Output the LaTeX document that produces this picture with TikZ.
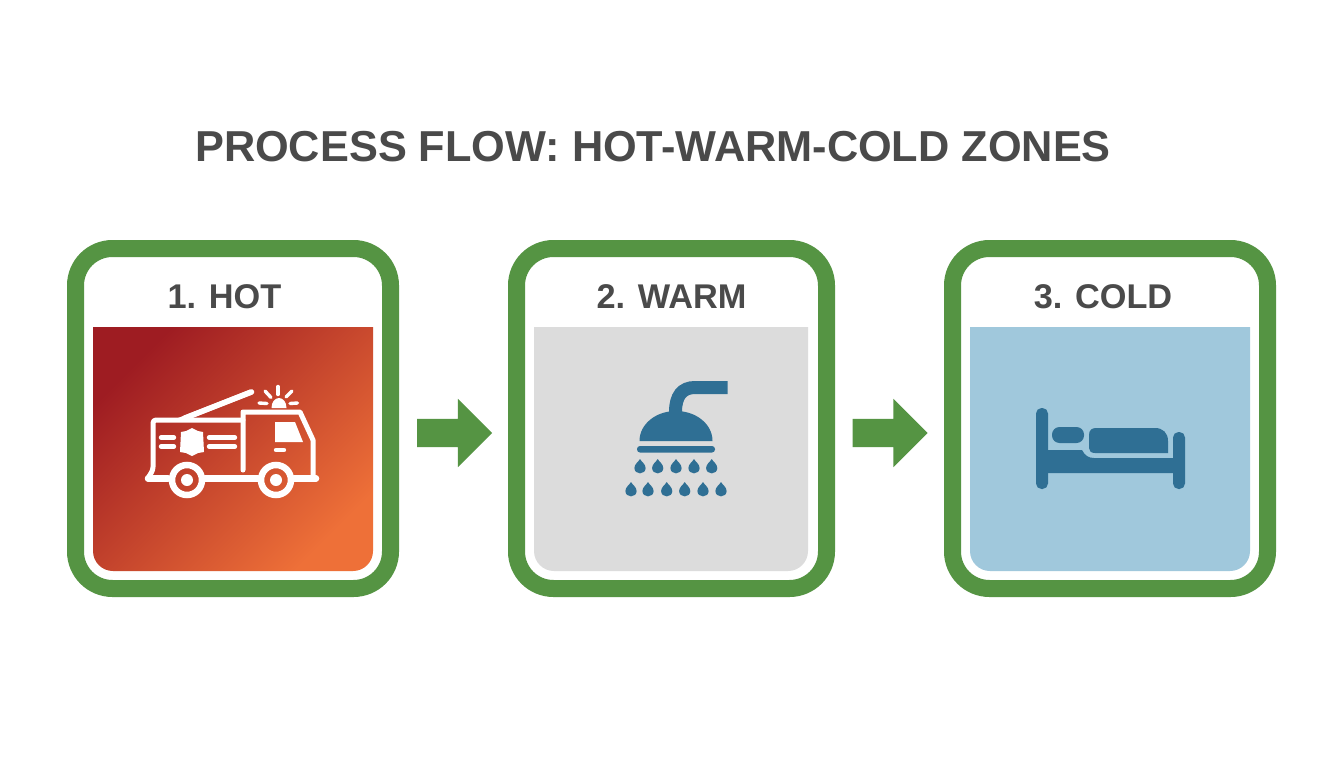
\documentclass[tikz,border=0pt]{standalone}
\usepackage{fontspec}
\setmainfont{Liberation Sans}
\usetikzlibrary{shapes.arrows}
\definecolor{framegreen}{HTML}{559443}
\definecolor{inkgray}{HTML}{4A4A4A}
\definecolor{iconblue}{HTML}{2F6F94}
\definecolor{panelgray}{HTML}{DCDCDC}
\definecolor{panelblue}{HTML}{A0C8DC}
\definecolor{hotdark}{HTML}{9E1C22}
\definecolor{hotmid}{HTML}{C8402F}
\definecolor{hotlight}{HTML}{EE7038}
\tikzset{
  card/.style={draw=framegreen,line width=17pt,fill=white,rounded corners=37pt,minimum height=340pt,outer sep=0pt,inner sep=0pt},
  cardtitle/.style={text=inkgray,font=\fontsize{34.3}{40}\selectfont\bfseries,inner sep=0pt,anchor=base},
  flowarrow/.style={single arrow,fill=framegreen,draw=none,minimum height=75pt,minimum width=68pt,single arrow head extend=20pt,single arrow head indent=0pt,inner sep=14pt,outer sep=0pt},
  truckline/.style={draw=white,line width=5pt,line cap=round,line join=round},
  thinline/.style={draw=white,line width=4.4pt,line cap=round},
  pics/waterdrop/.style={code={\fill[iconblue] (0,0) .. controls (1.2,2.5) and (5.6,5) .. (5.6,9) .. controls (5.6,12.2) and (3.1,14.4) .. (0,14.4) .. controls (-3.1,14.4) and (-5.6,12.2) .. (-5.6,9) .. controls (-5.6,5) and (-1.2,2.5) .. (0,0) -- cycle;}}
}
\begin{document}
\begin{tikzpicture}[x=1pt,y=-1pt]
\useasboundingbox (0,0) rectangle (1344,768);
\fill[white] (0,0) rectangle (1344,768);
% title
\node[text=inkgray,font=\fontsize{43.3}{48}\selectfont\bfseries,inner sep=0pt,anchor=base] (title) at (653,161) {PROCESS FLOW: HOT-WARM-COLD ZONES};
% cards
\node[card,minimum width=315pt] (card1) at (233,418.5) {};
\node[card,minimum width=310pt] (card2) at (671.5,418.5) {};
\node[card,minimum width=315pt] (card3) at (1110,418.5) {};
% labels
\node[cardtitle] (label1) at (224.5,308.5) {1. HOT};
\node[cardtitle] (label2) at (671.5,308.5) {2. WARM};
\node[cardtitle] (label3) at (1103,308.5) {3. COLD};
% panels
\path[top color=hotdark,middle color=hotmid,bottom color=hotlight,shading angle=45]
  (93,327) -- (373,327) [rounded corners=20pt] -- (373,571) -- (93,571) [sharp corners] -- cycle;
\fill[panelgray] (534,327) -- (808,327) [rounded corners=20pt] -- (808,571) -- (534,571) [sharp corners] -- cycle;
\fill[panelblue] (970,327) -- (1250,327) [rounded corners=20pt] -- (1250,571) -- (970,571) [sharp corners] -- cycle;
% arrows
\node[flowarrow] (arrow1) at (447.5,433) {};
\node[flowarrow] (arrow2) at (883,433) {};
% fire truck
\draw[truckline] (243,470) -- (243,412) -- (300,412) -- (313,440) -- (313,478);
\draw[truckline,rounded corners=3pt] (243,420) -- (153,420) -- (153,470) -- (148,478);
\draw[truckline,line width=6.5pt] (148,478.5) -- (168,478.5);
\draw[truckline,line width=6.5pt] (205,478.5) -- (258,478.5);
\draw[truckline,line width=6.5pt] (294,478.5) -- (316,478.5);
\fill[white] (173,420) -- (250,389.5) -- (252,394.5) -- (182,422) -- cycle;
\draw[truckline,line width=5.5pt] (251.5,392) -- (185,418);
\fill[white] (275,422) -- (295,422) -- (303,442) -- (275,442) -- cycle;
\draw[thinline] (276,450) -- (284,450);
\fill[white] (181,432) -- (186,431) -- (192,428) -- (198,431) -- (203,432) -- (204,452) -- (198,453) -- (192,456) -- (186,453) -- (180,452) -- cycle;
\draw[thinline] (161,437.5) -- (174,437.5);
\draw[thinline] (161,446.5) -- (174,446.5);
\draw[thinline] (209,437.5) -- (235,437.5);
\draw[thinline] (209,446.5) -- (235,446.5);
\foreach \cx in {187,276}{
  \draw[draw=white,line width=6.5pt] (\cx,480) circle[radius=15pt];
  \fill[white] (\cx,480) circle[radius=6pt];
}
\fill[white] (271.5,408) .. controls (271.5,402) and (275,398) .. (279,398) .. controls (283,398) and (286.5,402) .. (286.5,408) -- cycle;
\draw[thinline,line width=3.4pt] (259,403) -- (267,403.5);
\draw[thinline,line width=3.4pt] (265,391) -- (271,397.5);
\draw[thinline,line width=3.4pt] (278,386.5) -- (278,394.5);
\draw[thinline,line width=3.4pt] (292,391) -- (286,397);
\draw[thinline,line width=3.4pt] (290,403.5) -- (297.5,403);
% shower
\draw[draw=iconblue,line width=13pt] (727.5,387.5) -- (695,387.5) .. controls (682,387.5) and (675.5,396) .. (675.5,412);
\fill[iconblue] (639.5,441) .. controls (639.5,424) and (656,411) .. (676,411) .. controls (696,411) and (712.5,424) .. (712.5,441) -- cycle;
\fill[iconblue,rounded corners=3pt] (637,446) rectangle (715,452.5);
\foreach \dx in {640,657.7,676,694,711.7}{ \pic at (\dx,459) {waterdrop}; }
\foreach \dx in {631,648,666.7,684.7,703,721}{ \pic at (\dx,482) {waterdrop}; }
% bed
\fill[iconblue,rounded corners=5.5pt] (1036,408) rectangle (1048,489);
\fill[iconblue,rounded corners=5.5pt] (1173,432) rectangle (1185,489);
\fill[iconblue] (1046,450) -- (1082,450) .. controls (1085,456) and (1089,458) .. (1094,458) -- (1175,458) -- (1175,473) -- (1046,473) -- cycle;
\fill[iconblue,rounded corners=7.5pt] (1052,427) rectangle (1084,443);
\fill[iconblue] (1089,435) .. controls (1089,430) and (1092,428) .. (1096,428) -- (1155,428) .. controls (1163,428) and (1168,433) .. (1168,441) -- (1168,453) -- (1095,453) .. controls (1091,453) and (1089,451) .. (1089,448) -- cycle;
\end{tikzpicture}
\end{document}
